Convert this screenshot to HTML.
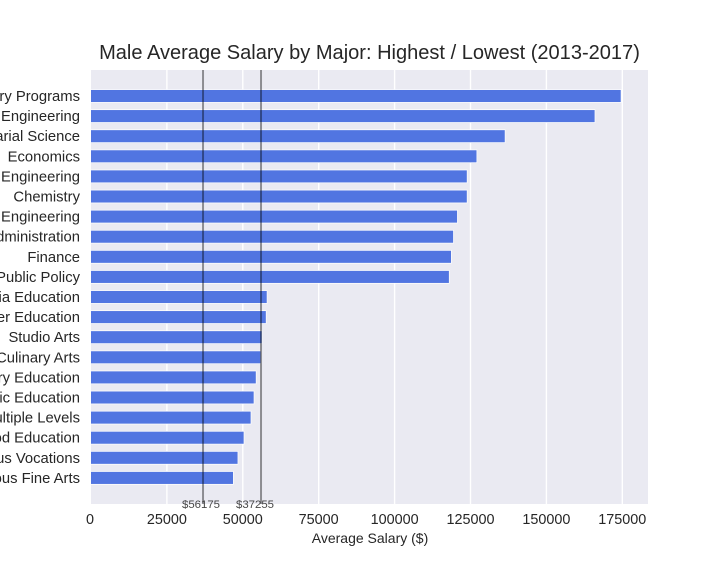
<!DOCTYPE html>
<html>
<head>
<meta charset="utf-8">
<style>
html,body{margin:0;padding:0;background:#fff;}
svg{display:block;font-family:"Liberation Sans",Arial,sans-serif;}
text{fill:#262626;}
</style>
</head>
<body>
<svg id="chart" width="720" height="576" viewBox="0 0 720 576" xmlns="http://www.w3.org/2000/svg">
<defs><clipPath id="plot-clip"><rect x="91" y="70" width="557" height="434"></rect></clipPath></defs>
<rect x="91" y="70" width="557" height="434" fill="#eaeaf2"></rect>
<g id="grid"></g>
<g id="bars" clip-path="url(#plot-clip)"></g>
<g id="vlines"></g>
<g id="xticks"></g>
<g id="yticks"></g>
<g id="annots"></g>
<text x="369.5" y="59" text-anchor="middle" font-size="20.05px">Male Average Salary by Major: Highest / Lowest (2013-2017)</text>
<text x="370" y="543" text-anchor="middle" font-size="14px">Average Salary ($)</text>
</svg>
<script>
const majors = ["Interdisciplinary Programs","Petroleum Engineering","Actuarial Science","Economics","Chemical Engineering","Chemistry","Mechanical Engineering","Business Administration","Finance","Political Science and Public Policy","Art and Media Education","Teacher Education","Studio Arts","Culinary Arts","Elementary Education","Public Education","Teaching Multiple Levels","Early Childhood Education","Miscellaneous Vocations","Miscellaneous Fine Arts"];
const salaries = [174600,166000,136400,127100,123900,123900,120700,119400,118700,118000,58000,57700,56300,56000,54400,53700,52700,50400,48400,46900];
const xTicks = [0,25000,50000,75000,100000,125000,150000,175000];
const refValues = [36900,56000];
const refLabels = ["$56175","$37255"];
const refLabelValues = [29970,47760];

const NS = "http://www.w3.org/2000/svg";
const plotLeft = 91, plotTop = 70, plotBottom = 504;
const pxPerUnit = 0.003036;
const firstCenter = 96, step = 20.1, barHeight = 12.8;
function xScale(v){ return plotLeft + v * pxPerUnit; }
function yScale(i){ return firstCenter + i * step; }
function make(tag, attrs, parent, txt){
  const el = document.createElementNS(NS, tag);
  for (const k in attrs) el.setAttribute(k, attrs[k]);
  if (txt !== undefined) el.textContent = txt;
  document.getElementById(parent).appendChild(el);
  return el;
}
xTicks.forEach(function(t){
  if (t > 0) {
    const g = make("line",{x1:xScale(t),x2:xScale(t),y1:plotTop,y2:plotBottom,stroke:"#fff","stroke-width":1.4},"grid");
    
    
  }
  const l = make("text",{x:xScale(t)-(t===0?1:0),y:524,"text-anchor":"middle","font-size":"14.4px"},"xticks",String(t));
  
  
});
salaries.forEach(function(v,i){
  const b = make("rect",{x:plotLeft-2,y:yScale(i)-barHeight/2,width:xScale(v)-plotLeft+2,height:barHeight,fill:"#5175e1",stroke:"#fff","stroke-width":0.7},"bars");
  
  
  const l = make("text",{x:80,y:yScale(i)+5,"text-anchor":"end","font-size":"14.8px"},"yticks",majors[i]);
  
  
});
refValues.forEach(function(v,i){
  const r = make("line",{x1:xScale(v),x2:xScale(v),y1:plotTop,y2:plotBottom,stroke:"#000","stroke-opacity":0.4,"stroke-width":2},"vlines");
  
  
  const t = make("text",{x:xScale(refLabelValues[i]),y:508,"font-size":"11.4px","fill-opacity":0.85},"annots",refLabels[i]);
  
  
});
</script>
</body>
</html>
